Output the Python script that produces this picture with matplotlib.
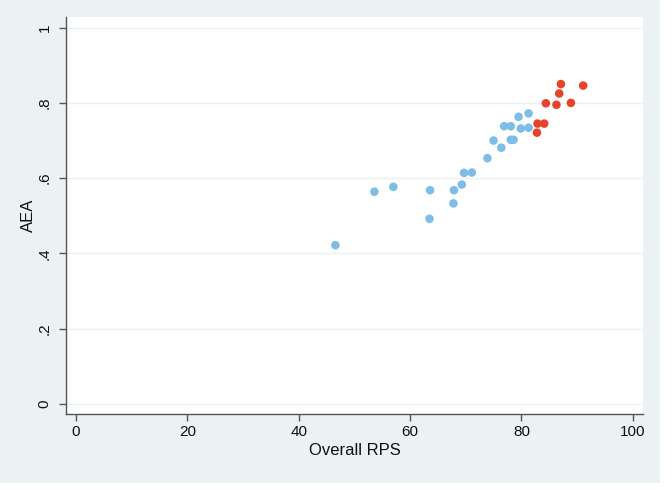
import matplotlib.pyplot as plt
from matplotlib.patches import Rectangle

plt.rcParams['font.family'] = ['Liberation Sans', 'DejaVu Sans']

### data #####################################################################
rps_blue = [46.6, 53.6, 57.0, 63.6, 63.5, 67.8, 67.9, 69.3, 69.7, 71.1, 73.9,
            75.0, 76.4, 78.1, 78.6, 76.9, 78.1, 79.5, 81.3, 79.9, 81.3]
aea_blue = [.422, .564, .577, .568, .492, .533, .568, .583, .614, .615, .653,
            .700, .681, .702, .702, .738, .738, .763, .772, .732, .734]
rps_red = [87.1, 91.1, 86.8, 84.4, 86.3, 88.9, 82.9, 84.1, 82.8]
aea_red = [.850, .846, .825, .799, .795, .800, .745, .745, .721]

x_ticks = [0, 20, 40, 60, 80, 100]
y_ticks = [0, .2, .4, .6, .8, 1]
y_ticklabels = ['0', '.2', '.4', '.6', '.8', '1']

bg = '#EAF2F3'
fig = plt.figure(figsize=(6.72, 4.9), dpi=100, facecolor='white')
# stata graph region (light blue), leaves a thin white margin right/bottom
fig.add_artist(Rectangle((0, 1 - 483 / 490), 660 / 672, 483 / 490,
                         transform=fig.transFigure, facecolor=bg,
                         edgecolor='none', zorder=-10))

ax = fig.add_axes([65.7 / 672, 76 / 490, (643.3 - 65.7) / 672, (414 - 16.7) / 490])
ax.set_facecolor('white')

ax.scatter(rps_blue, aea_blue, s=38, color='#7DBDE8', edgecolors='none', zorder=3)
ax.scatter(rps_red, aea_red, s=38, color='#E8432A', edgecolors='none', zorder=3)

ax.set_xlim(-1.85, 101.9)
ax.set_ylim(-0.0266, 1.029)
ax.set_xticks(x_ticks)
ax.set_yticks(y_ticks)
ax.set_yticklabels(y_ticklabels, rotation=90, va='center')
ax.grid(axis='y', color=bg, linewidth=1)
ax.set_axisbelow(True)

for side in ['top', 'right']:
    ax.spines[side].set_visible(False)
for side in ['left', 'bottom']:
    ax.spines[side].set_color('#555555')
    ax.spines[side].set_linewidth(1)
ax.tick_params(axis='both', direction='out', length=5, width=1, color='#555555',
               labelsize=11, labelcolor='#111111')
ax.tick_params(axis='y', pad=5)
ax.tick_params(axis='x', pad=3)

ax.set_xlabel('Overall RPS', fontsize=12, color='#111111', labelpad=3)
ax.set_ylabel('AEA', fontsize=12, color='#111111', labelpad=1)

fig.savefig('out.png', dpi=100, facecolor=fig.get_facecolor())
